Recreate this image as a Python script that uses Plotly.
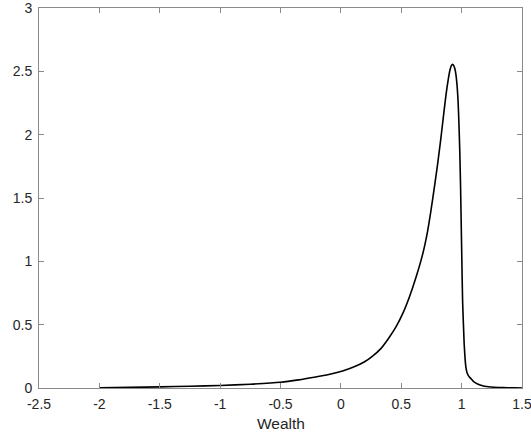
import plotly.graph_objects as go

# Values (wealth density curve)
wealth = [-2.0, -1.75, -1.5, -1.25, -1.0, -0.75, -0.5, -0.35, -0.221, -0.1, 0.014,
          0.1, 0.193, 0.26, 0.331, 0.39, 0.455, 0.511, 0.566, 0.621,
          0.677, 0.718, 0.745, 0.773, 0.80, 0.814, 0.828, 0.85, 0.87, 0.89,
          0.905, 0.915, 0.925, 0.935, 0.944, 0.952, 0.962, 0.971, 0.978, 0.985,
          0.991, 0.996, 1.002, 1.008, 1.015, 1.021, 1.028, 1.035, 1.045, 1.06,
          1.077, 1.1, 1.132, 1.18, 1.242, 1.31, 1.38, 1.44, 1.5]
density = [0.002, 0.005, 0.009, 0.014, 0.02, 0.03, 0.045, 0.064, 0.085, 0.107, 0.135,
           0.163, 0.205, 0.25, 0.311, 0.385, 0.48, 0.585, 0.715, 0.87,
           1.055, 1.237, 1.394, 1.576, 1.76, 1.864, 1.97, 2.15, 2.31, 2.44,
           2.516, 2.545, 2.555, 2.545, 2.52, 2.48, 2.39, 2.255, 2.08, 1.86,
           1.6, 1.33, 1.0, 0.69, 0.5, 0.35, 0.24, 0.167, 0.12, 0.092,
           0.074, 0.05, 0.031, 0.016, 0.008, 0.004, 0.002, 0.001, 0.0005]

x_ticks = [-2.5, -2, -1.5, -1, -0.5, 0, 0.5, 1, 1.5]
x_tick_labels = ["-2.5", "-2", "-1.5", "-1", "-0.5", "0", "0.5", "1", "1.5"]
y_ticks = [0, 0.5, 1, 1.5, 2, 2.5, 3]
y_tick_labels = ["0", "0.5", "1", "1.5", "2", "2.5", "3"]
x_title = "Wealth"

fig = go.Figure()
fig.add_trace(go.Scatter(
    x=wealth, y=density, mode="lines",
    line=dict(color="black", width=1.6, shape="spline", smoothing=0.5),
    showlegend=False, hoverinfo="skip",
))

axis_color = "#8a8a8a"
text_color = "#262626"
family = "Liberation Sans, Arial, sans-serif"
tick_font = dict(family=family, size=14, color=text_color)
plot_h = 438 - 8 - 50

fig.update_layout(
    width=531, height=438,
    margin=dict(l=39, r=9, t=8, b=50),
    paper_bgcolor="white", plot_bgcolor="white",
    font=tick_font,
    xaxis=dict(
        range=[-2.5, 1.5], tickvals=x_ticks, ticktext=x_tick_labels,
        ticks="inside", ticklen=5, tickcolor=axis_color, tickwidth=1,
        showline=True, linecolor=axis_color, linewidth=1, mirror="ticks",
        showgrid=False, zeroline=False, automargin=False,
        ticklabeloverflow="allow", ticklabelstandoff=3,
        tickfont=tick_font,
    ),
    yaxis=dict(
        range=[0, 3], tickvals=y_ticks, ticktext=y_tick_labels,
        ticks="inside", ticklen=5, tickcolor=axis_color, tickwidth=1,
        showline=True, linecolor=axis_color, linewidth=1, mirror="ticks",
        showgrid=False, zeroline=False, automargin=False,
        ticklabeloverflow="allow", ticklabelstandoff=3,
        tickfont=tick_font,
    ),
    annotations=[dict(
        text=x_title, xref="paper", yref="paper", x=0.5, y=-35 / plot_h,
        xanchor="center", yanchor="middle", showarrow=False,
        font=dict(family=family, size=15.5, color=text_color),
    )],
)

fig.write_html(
    "out.html",
    config={"displayModeBar": False, "staticPlot": True},
    post_script="document.body.style.margin='0';document.body.style.overflow='hidden';",
)
